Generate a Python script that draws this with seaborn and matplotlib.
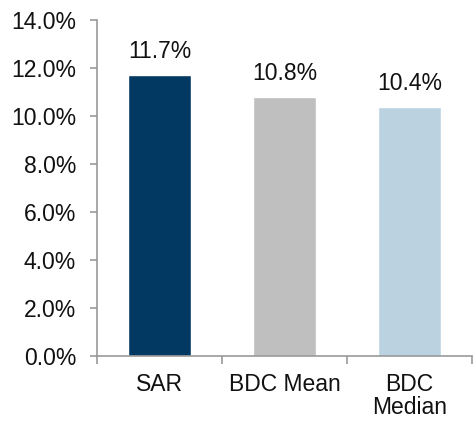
import matplotlib
matplotlib.use("Agg")
import matplotlib.pyplot as plt
import seaborn as sns
from matplotlib.ticker import FuncFormatter, FixedLocator

# ---------- DATA ----------
categories = ["SAR", "BDC Mean", "BDC\nMedian"]
values = [11.7, 10.8, 10.4]
colors = ["#023963", "#BFBFBF", "#BBD2E1"]

sns.set_style("white")
plt.rcParams["font.family"] = ["Liberation Sans", "DejaVu Sans"]

fig = plt.figure(figsize=(4.73, 4.21), dpi=100)
ax = fig.add_axes([0.205, 0.154, 0.793, 0.798])

sns.barplot(x=categories, y=values, hue=categories, palette=colors,
            width=0.5, legend=False, saturation=1, ax=ax)

for i, v in enumerate(values):
    ax.text(i, v + 0.5, f"{v:.1f}%", ha="center", va="bottom", fontsize=16.5, color="#111111")

ax.set_ylim(0, 14)
ax.set_xlim(-0.5, 2.5)
ax.set_yticks([0, 2, 4, 6, 8, 10, 12, 14])
ax.yaxis.set_major_formatter(FuncFormatter(lambda v, _: f"{v:.1f}%"))

# category boundary ticks below the axis
ax.xaxis.set_minor_locator(FixedLocator([-0.5, 0.5, 1.5, 2.5]))
ax.tick_params(axis="x", which="major", length=0, labelsize=16.5, pad=12, colors="#111111")
ax.tick_params(axis="x", which="minor", length=6, width=1.2, color="#999999", direction="out", bottom=True)
ax.tick_params(axis="y", length=5, width=1.2, color="#999999", direction="out", left=True,
               labelsize=16.5, labelcolor="#111111", pad=10)
for lab in ax.get_xticklabels():
    lab.set_linespacing(1.0)

for side in ["top", "right"]:
    ax.spines[side].set_visible(False)
for side in ["left", "bottom"]:
    ax.spines[side].set_color("#999999")
    ax.spines[side].set_linewidth(1.2)

ax.set_xlabel("")
ax.set_ylabel("")

fig.savefig("out.png", dpi=100)
